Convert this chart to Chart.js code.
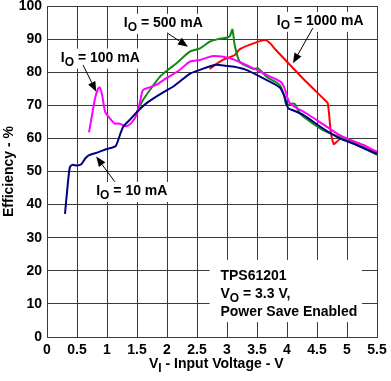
<!DOCTYPE html>
<html>
<head>
<meta charset="utf-8">
<script src="https://cdn.jsdelivr.net/npm/chart.js@4/dist/chart.umd.min.js"></script>
<style>
  html, body { margin: 0; padding: 0; background: #fff; }
  #wrap { width: 391px; height: 381px; }
</style>
</head>
<body>
<div id="wrap"><canvas id="effChart" width="391" height="381"></canvas></div>
<script>
// Efficiency vs input voltage, TPS61201
const xTicks = [0, 0.5, 1, 1.5, 2, 2.5, 3, 3.5, 4, 4.5, 5, 5.5];
const yTicks = [0, 10, 20, 30, 40, 50, 60, 70, 80, 90, 100];

const v10mA = [0.30, 0.34, 0.38, 0.42, 0.50, 0.57, 0.64, 0.71, 0.80, 0.88, 1.00, 1.10, 1.15, 1.27, 1.40, 1.50, 1.65, 1.82, 2.00, 2.10, 2.38, 2.55, 2.79, 2.95, 3.10, 3.32, 3.60, 3.88, 3.96, 4.02, 4.10, 4.27, 4.60, 4.88, 5.16, 5.50];
const eff10mA = [37.2, 45, 51.2, 52, 51.8, 52.2, 54, 55, 55.5, 56, 56.8, 57.3, 57.8, 63.5, 66, 68, 70.5, 72.6, 74.6, 75.6, 79.5, 80.7, 82.2, 82, 81.7, 80.7, 78.2, 75.4, 72.6, 69.1, 68.5, 67.1, 63, 60, 58, 55.3];

const v100mA = [0.70, 0.75, 0.80, 0.85, 0.88, 0.92, 0.97, 1.05, 1.13, 1.20, 1.32, 1.42, 1.49, 1.55, 1.60, 1.71, 1.85, 1.99, 2.20, 2.38, 2.55, 2.77, 3.05, 3.32, 3.66, 3.90, 3.96, 4.05, 4.32, 4.60, 4.88, 5.20, 5.50];
const eff100mA = [61.8, 67, 72, 75, 75.4, 73, 68, 66, 64.5, 64.5, 63.7, 65, 67, 71, 74.6, 75.4, 76.5, 78.2, 80.5, 83.2, 83.7, 84.9, 84.2, 82.2, 79.2, 77, 75.1, 70.6, 67.6, 64.3, 61, 58.5, 56];

const v500mA = [1.50, 1.60, 1.75, 1.88, 2.00, 2.16, 2.38, 2.55, 2.71, 2.85, 2.99, 3.05, 3.09, 3.13, 3.21, 3.35, 3.45, 3.52, 3.66, 3.88, 3.95, 3.99, 4.06, 4.13, 4.20, 4.27, 4.60, 5.00, 5.50];
const eff500mA = [68, 71.6, 75.5, 78.6, 80.5, 82.7, 86.2, 87.2, 89.2, 90, 90.4, 91, 92.9, 88, 83.2, 81.7, 81, 81.2, 78.6, 76.1, 73, 70.1, 70.5, 70.4, 68, 66.6, 62.5, 59.5, 55];

const v1000mA = [2.71, 2.93, 3.13, 3.21, 3.44, 3.63, 3.71, 3.80, 4.05, 4.32, 4.63, 4.68, 4.73, 4.78, 4.83, 4.90, 5.00, 5.27, 5.50];
const eff1000mA = [81, 83.7, 85.2, 86.9, 88.7, 89.7, 88.9, 87, 82.2, 77.1, 71.6, 70.6, 62, 58.3, 59, 60, 59.5, 58, 55.5];

const FONT = '"Liberation Sans", Arial, sans-serif';

function toPoints(xs, ys) {
    return xs.map((x, i) => ({ x: x, y: ys[i] }));
}

function series(xs, ys, color) {
    return {
        data: toPoints(xs, ys),
        borderColor: color,
        borderWidth: 2,
        pointRadius: 0,
        tension: 0.25,
        fill: false
    };
}

// draws text pieces, some of them as subscripts
function drawRich(ctx, x, y, parts, size) {
    let cx = x;
    parts.forEach(p => {
        const sub = p[1];
        ctx.font = 'bold ' + (sub ? size - 2 : size) + 'px ' + FONT;
        ctx.fillText(p[0], cx, sub ? y + 4 : y);
        cx += ctx.measureText(p[0]).width;
    });
    return cx - x;
}

function richWidth(ctx, parts, size) {
    let w = 0;
    parts.forEach(p => {
        ctx.font = 'bold ' + (p[1] ? size - 2 : size) + 'px ' + FONT;
        w += ctx.measureText(p[0]).width;
    });
    return w;
}

function drawArrow(ctx, x1, y1, x2, y2) {
    const ang = Math.atan2(y2 - y1, x2 - x1);
    const len = 10, half = 4;
    const bx = x2 - len * Math.cos(ang), by = y2 - len * Math.sin(ang);
    ctx.strokeStyle = '#000';
    ctx.lineWidth = 1;
    ctx.beginPath();
    ctx.moveTo(x1, y1);
    ctx.lineTo(bx, by);
    ctx.stroke();
    ctx.beginPath();
    ctx.moveTo(x2, y2);
    ctx.lineTo(bx + half * Math.sin(ang), by - half * Math.cos(ang));
    ctx.lineTo(bx - half * Math.sin(ang), by + half * Math.cos(ang));
    ctx.closePath();
    ctx.fillStyle = '#000';
    ctx.fill();
}

// current labels: text anchor (left, baseline) and arrow in data units
const currentLabels = [
    { text: ' = 500 mA', x: 1.28, y: 93.7, from: [2.0, 91.9], to: [2.35, 87.7] },
    { text: ' = 100 mA', x: 0.23, y: 83.2, from: [0.6, 82.2], to: [0.82, 74.1] },
    { text: ' = 10 mA', x: 0.82, y: 42.9, from: [1.13, 46.9], to: [0.82, 54.5] },
    { text: ' = 1000 mA', x: 3.83, y: 94.3, from: [4.43, 93.3], to: [4.1, 82.7] }
];

const notePlugin = {
    id: 'notes',
    afterDatasetsDraw(chart) {
        const ctx = chart.ctx;
        const xs = chart.scales.x, ys = chart.scales.y;
        const size = 14;
        ctx.save();
        ctx.textBaseline = 'alphabetic';
        ctx.textAlign = 'left';

        currentLabels.forEach(l => {
            const parts = [['I', false], ['O', true], [l.text, false]];
            const px = xs.getPixelForValue(l.x), py = ys.getPixelForValue(l.y);
            const w = richWidth(ctx, parts, size);
            ctx.fillStyle = '#fff';
            ctx.fillRect(px - 3, py - 13, w + 6, 20);
            ctx.fillStyle = '#000';
            drawRich(ctx, px, py, parts, size);
            drawArrow(ctx, xs.getPixelForValue(l.from[0]), ys.getPixelForValue(l.from[1]),
                xs.getPixelForValue(l.to[0]), ys.getPixelForValue(l.to[1]));
        });

        // condition box
        const bx1 = xs.getPixelForValue(2.71), bx2 = xs.getPixelForValue(5.25);
        const by1 = ys.getPixelForValue(23.3), by2 = ys.getPixelForValue(4.5);
        ctx.fillStyle = '#fff';
        ctx.fillRect(bx1, by1, bx2 - bx1, by2 - by1);
        ctx.fillStyle = '#000';
        const tx = xs.getPixelForValue(2.89);
        drawRich(ctx, tx, ys.getPixelForValue(17.2), [['TPS61201', false]], size);
        drawRich(ctx, tx, ys.getPixelForValue(11.8), [['V', false], ['O', true], [' = 3.3 V,', false]], size);
        drawRich(ctx, tx, ys.getPixelForValue(6.3), [['Power Save Enabled', false]], size);

        // axis titles
        drawRich(ctx, 149, 368, [['V', false], ['I', true], [' - Input Voltage - V', false]], size);
        ctx.translate(13, (chart.chartArea.top + chart.chartArea.bottom) / 2);
        ctx.rotate(-Math.PI / 2);
        ctx.textAlign = 'center';
        ctx.font = 'bold ' + size + 'px ' + FONT;
        ctx.fillText('Efficiency - %', 0, 0);
        ctx.restore();
    }
};

const tickFont = { family: FONT, size: 14, weight: 'bold' };

new Chart(document.getElementById('effChart').getContext('2d'), {
    type: 'line',
    data: {
        datasets: [
            series(v10mA, eff10mA, '#000080'),
            series(v100mA, eff100mA, '#ff00ff'),
            series(v500mA, eff500mA, '#108a10'),
            series(v1000mA, eff1000mA, '#ff0000')
        ]
    },
    options: {
        responsive: false,
        animation: false,
        layout: { padding: { left: 0, right: 14, top: 6, bottom: 0 } },
        plugins: {
            legend: { display: false },
            tooltip: { enabled: false }
        },
        scales: {
            x: {
                type: 'linear',
                min: xTicks[0],
                max: xTicks[xTicks.length - 1],
                afterBuildTicks: axis => { axis.ticks = xTicks.map(v => ({ value: v })); },
                afterFit: axis => { axis.height = 44; axis.paddingLeft = 0; axis.paddingRight = 0; },
                grid: { color: '#3a3a3a', drawTicks: false },
                border: { color: '#3a3a3a' },
                ticks: { font: tickFont, color: '#000', padding: 5, maxRotation: 0, autoSkip: false, callback: v => String(v) }
            },
            y: {
                min: yTicks[0],
                max: yTicks[yTicks.length - 1],
                afterBuildTicks: axis => { axis.ticks = yTicks.map(v => ({ value: v })); },
                afterFit: axis => { axis.width = 47; axis.paddingTop = 0; axis.paddingBottom = 0; },
                grid: { color: '#3a3a3a', drawTicks: false },
                border: { color: '#3a3a3a' },
                ticks: { font: tickFont, color: '#000', padding: 5, callback: v => String(v) }
            }
        }
    },
    plugins: [notePlugin]
});
</script>
</body>
</html>
